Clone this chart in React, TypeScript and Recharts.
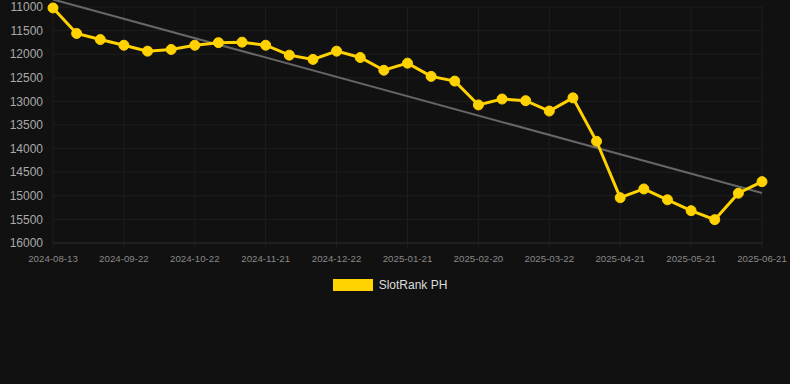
import { LineChart, Line, XAxis, YAxis, CartesianGrid, Legend, ReferenceLine } from 'recharts';

const dates = [
  '2024-08-13', '2024-08-26', '2024-09-09', '2024-09-22', '2024-10-02', '2024-10-12',
  '2024-10-22', '2024-11-01', '2024-11-11', '2024-11-21', '2024-12-01', '2024-12-11',
  '2024-12-22', '2025-01-01', '2025-01-11', '2025-01-21', '2025-01-31', '2025-02-10',
  '2025-02-20', '2025-03-02', '2025-03-12', '2025-03-22', '2025-04-01', '2025-04-11',
  '2025-04-21', '2025-05-01', '2025-05-11', '2025-05-21', '2025-05-31', '2025-06-10',
  '2025-06-21',
];

const ranks = [
  11020, 11560, 11690, 11810, 11935, 11900, 11810, 11755, 11745, 11810, 12020, 12110,
  11935, 12070, 12340, 12190, 12470, 12570, 13075, 12950, 12985, 13205, 12925, 13845,
  15040, 14855, 15085, 15315, 15505, 14945, 14700,
];

const yTicks = [11000, 11500, 12000, 12500, 13000, 13500, 14000, 14500, 15000, 15500, 16000];

// trend line end points (start, end)
const trendStart = 10840;
const trendEnd = 14940;

const seriesName = 'SlotRank PH';
const lineColor = '#ffd200';
const font = 'Arial, "Liberation Sans", sans-serif';

const data = dates.map((date, i) => ({ date, rank: ranks[i] }));

function LegendContent() {
  return (
    <div style={{ display: 'flex', justifyContent: 'center', alignItems: 'center', paddingTop: 5, paddingLeft: 18 }}>
      <span style={{ display: 'inline-block', width: 40, height: 12, background: lineColor, marginRight: 6 }} />
      <span style={{ color: '#dddddd', fontSize: 12, fontFamily: font }}>{seriesName}</span>
    </div>
  );
}

export default function App() {
  return (
    <div style={{ position: 'absolute', left: 0, top: 0, width: 790, height: 384, background: '#111111', overflow: 'hidden' }}>
      <LineChart
        width={790}
        height={310}
        data={data}
        margin={{ top: 7, right: 28, left: 0, bottom: 0 }}
        style={{ overflow: 'visible' }}
      >
        <CartesianGrid stroke="#1e1e1e" strokeWidth={1} />
        <XAxis
          dataKey="date"
          interval={2}
          height={30}
          padding={{ left: 0, right: 0 }}
          tick={{ fill: '#888888', fontSize: 9.7, fontFamily: font }}
          axisLine={{ stroke: '#2a2a2a' }}
          tickLine={{ stroke: '#1e1e1e' }}
          tickSize={5}
          tickMargin={7}
        />
        <YAxis
          reversed
          width={53}
          domain={[11000, 16000]}
          ticks={yTicks}
          interval={0}
          tick={{ fill: '#aaaaaa', fontSize: 12, fontFamily: font }}
          axisLine={false}
          tickLine={false}
          tickSize={6}
          tickMargin={4}
        />
        <ReferenceLine
          segment={[
            { x: dates[0], y: trendStart },
            { x: dates[dates.length - 1], y: trendEnd },
          ]}
          stroke="#666666"
          strokeWidth={2}
          ifOverflow="visible"
        />
        <Legend verticalAlign="bottom" height={37} content={<LegendContent />} />
        <Line
          type="linear"
          dataKey="rank"
          name={seriesName}
          stroke={lineColor}
          strokeWidth={3}
          dot={{ r: 5, fill: lineColor, stroke: lineColor, strokeWidth: 1 }}
          activeDot={false}
          isAnimationActive={false}
        />
      </LineChart>
    </div>
  );
}
